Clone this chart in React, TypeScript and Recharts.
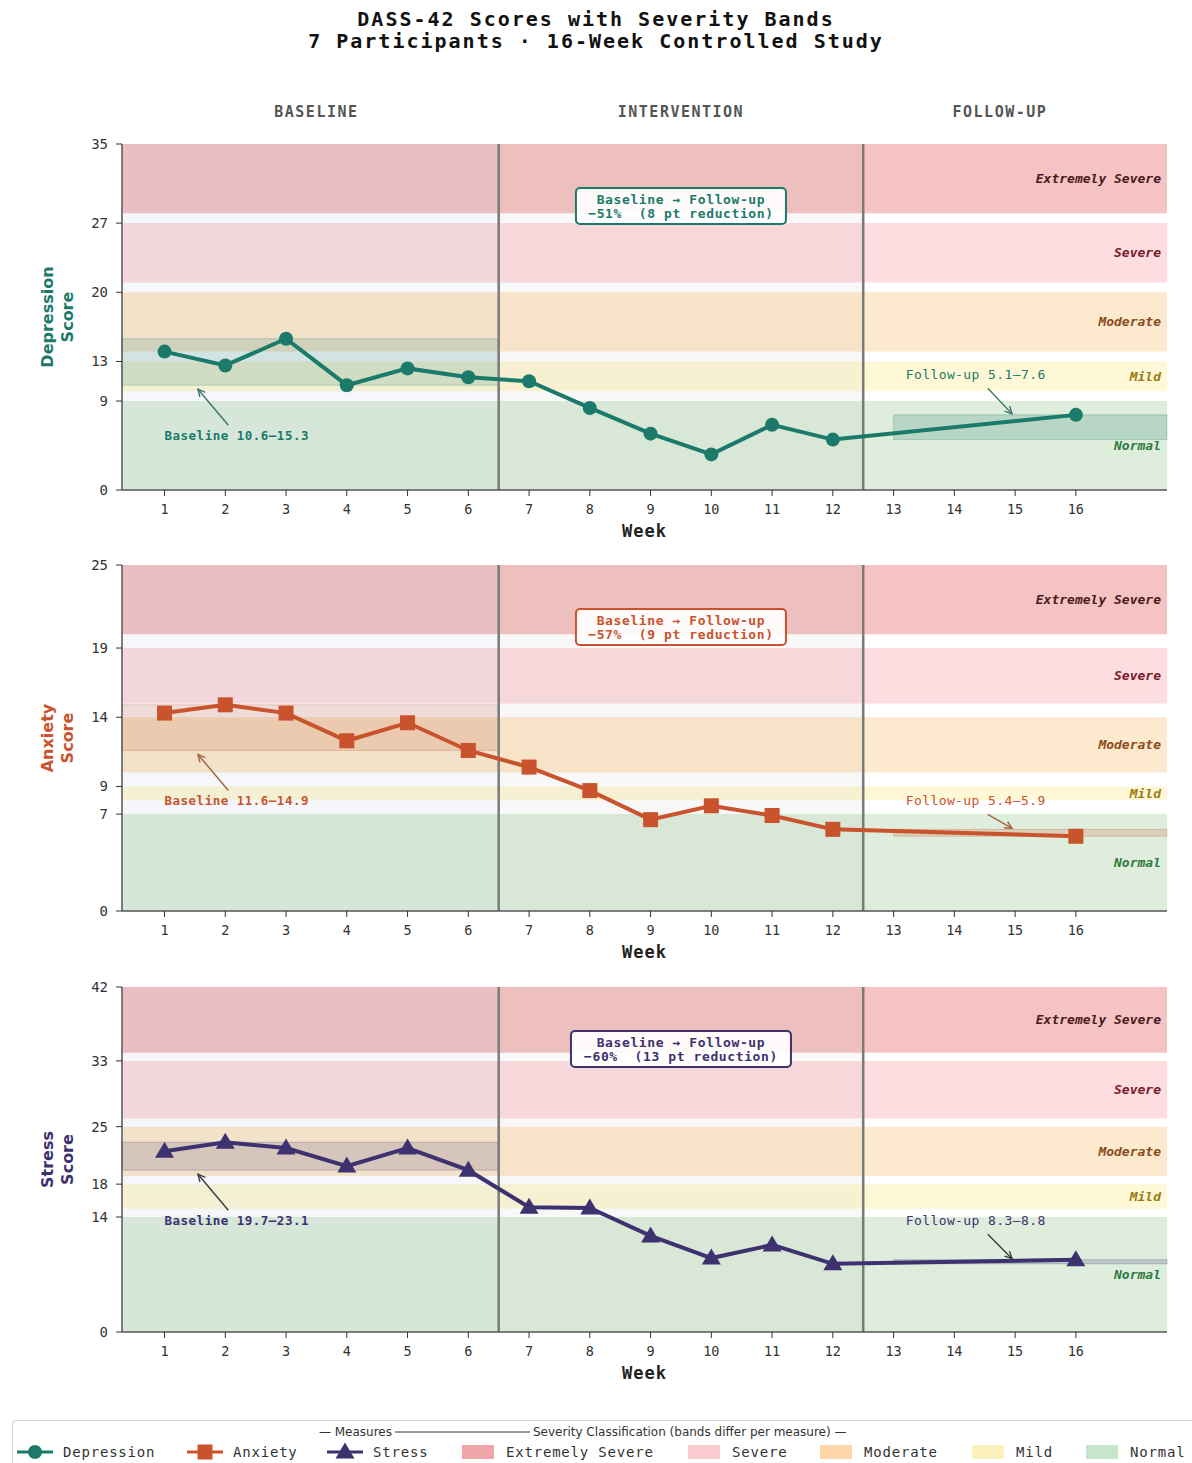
import { ComposedChart, XAxis, YAxis, Line, ReferenceArea, ReferenceLine } from 'recharts';

// ---- data ----
const weeks = [1, 2, 3, 4, 5, 6, 7, 8, 9, 10, 11, 12, 16];
const depression = [14.0, 12.6, 15.3, 10.6, 12.3, 11.4, 11.0, 8.3, 5.7, 3.6, 6.6, 5.1, 7.6];
const anxiety = [14.3, 14.9, 14.3, 12.3, 13.6, 11.6, 10.4, 8.7, 6.6, 7.6, 6.9, 5.9, 5.4];
const stress = [22.0, 23.1, 22.4, 20.2, 22.4, 19.7, 15.2, 15.1, 11.7, 9.0, 10.6, 8.3, 8.8];

const weekTicks = [1, 2, 3, 4, 5, 6, 7, 8, 9, 10, 11, 12, 13, 14, 15, 16];
const depressionTicks = [0, 9, 13, 20, 27, 35];
const anxietyTicks = [0, 7, 9, 14, 19, 25];
const stressTicks = [0, 14, 18, 25, 33, 42];

const severityNames = ['Normal', 'Mild', 'Moderate', 'Severe', 'Extremely Severe'];
const depressionBands = [[0, 9], [10, 13], [14, 20], [21, 27], [28, 35]];
const anxietyBands = [[0, 7], [8, 9], [10, 14], [15, 19], [20, 25]];
const stressBands = [[0, 14], [15, 18], [19, 25], [26, 33], [34, 42]];

const depressionBaseline = [10.6, 15.3];
const depressionFollowUp = [5.1, 7.6];
const anxietyBaseline = [11.6, 14.9];
const anxietyFollowUp = [5.4, 5.9];
const stressBaseline = [19.7, 23.1];
const stressFollowUp = [8.3, 8.8];

const depressionChange = '−51%  (8 pt reduction)';
const anxietyChange = '−57%  (9 pt reduction)';
const stressChange = '−60%  (13 pt reduction)';

const phaseNames = ['BASELINE', 'INTERVENTION', 'FOLLOW-UP'];
const phaseBreaks = [6.5, 12.5];

// ---- layout / styles ----
const MONO = '"DejaVu Sans Mono", monospace';
const SANS = '"DejaVu Sans", sans-serif';
const CHART_W = 1192;
const MARGIN = { top: 14, right: 25, bottom: 0, left: 62 };
const Y_AXIS_W = 60;
const X_AXIS_H = 55;
const xDomain: [number, number] = [0.3, 17.5];
const bandFill = ['#dfeedc', '#fef8d6', '#fde9cd', '#fddde0', '#f5c3c3'];
const bandLabelColor = ['#2e7a3e', '#9a7a10', '#8a4a1a', '#7a1a2a', '#4a1a1e'];
const legendSwatch = ['#f1a6aa', '#fccbd3', '#fdd7a8', '#fef2bc', '#c6e5ca'];
const phaseCenters = [3.5, 9.5, 14.75];

interface PanelDef {
  name: string;
  color: string;
  arrowColor: string;
  marker: 'circle' | 'square' | 'triangle';
  values: number[];
  ticks: number[];
  bands: number[][];
  baseline: number[];
  followUp: number[];
  change: string;
  followTextY: number;
  top: number;
  plotHeight: number;
  showPhases?: boolean;
}

const panels: PanelDef[] = [
  {
    name: 'Depression', color: '#1b7a6a', arrowColor: '#3c766c', marker: 'circle',
    values: depression, ticks: depressionTicks, bands: depressionBands,
    baseline: depressionBaseline, followUp: depressionFollowUp, change: depressionChange,
    followTextY: 11.7, top: 130, plotHeight: 346, showPhases: true,
  },
  {
    name: 'Anxiety', color: '#c9532c', arrowColor: '#a5623f', marker: 'square',
    values: anxiety, ticks: anxietyTicks, bands: anxietyBands,
    baseline: anxietyBaseline, followUp: anxietyFollowUp, change: anxietyChange,
    followTextY: 8.0, top: 551, plotHeight: 346,
  },
  {
    name: 'Stress', color: '#3d3170', arrowColor: '#3a3a48', marker: 'triangle',
    values: stress, ticks: stressTicks, bands: stressBands,
    baseline: stressBaseline, followUp: stressFollowUp, change: stressChange,
    followTextY: 13.6, top: 973, plotHeight: 345,
  },
];

function markerShape(kind: string, color: string) {
  return (props: any) => {
    const { cx, cy, index } = props;
    if (cx == null || cy == null) return <g key={index} />;
    if (kind === 'square') {
      return <rect key={index} x={cx - 7.5} y={cy - 7.5} width={15} height={15} fill={color} />;
    }
    if (kind === 'triangle') {
      return <polygon key={index} points={`${cx},${cy - 9.5} ${cx - 9.5},${cy + 6.5} ${cx + 9.5},${cy + 6.5}`} fill={color} />;
    }
    return <circle key={index} cx={cx} cy={cy} r={7} fill={color} />;
  };
}

function Arrow({ x1, y1, x2, y2, color }: any) {
  const ang = Math.atan2(y2 - y1, x2 - x1);
  const len = 8;
  const a1 = ang + Math.PI - 0.45;
  const a2 = ang + Math.PI + 0.45;
  return (
    <g stroke={color} strokeWidth={1.4} fill="none">
      <line x1={x1} y1={y1} x2={x2} y2={y2} />
      <polyline points={`${x2 + len * Math.cos(a1)},${y2 + len * Math.sin(a1)} ${x2},${y2} ${x2 + len * Math.cos(a2)},${y2 + len * Math.sin(a2)}`} />
    </g>
  );
}

// text layer drawn over the chart, same plot box as the chart under it
function Overlay({ p }: { p: PanelDef }) {
  const pad = 45;
  const plot = { x: MARGIN.left + Y_AXIS_W, y: MARGIN.top, width: CHART_W - MARGIN.left - Y_AXIS_W - MARGIN.right, height: p.plotHeight };
  const yMax = p.ticks[p.ticks.length - 1];
  const sx = (v: number) => plot.x + ((v - xDomain[0]) / (xDomain[1] - xDomain[0])) * plot.width;
  const sy = (v: number) => plot.y + ((yMax - v) / yMax) * plot.height;
  const cx = plot.x + plot.width / 2;
  const boxX = sx(9.5);
  const boxY = plot.y + 62;
  const boxW = p.change.length > 22 ? 220 : 210;
  const baseLo = sy(p.baseline[0]);
  const followText = sy(p.followTextY);
  const totalH = MARGIN.top + p.plotHeight + X_AXIS_H;

  return (
    <svg width={CHART_W} height={totalH + pad} style={{ position: 'absolute', left: 0, top: -pad, pointerEvents: 'none' }}>
      <g transform={`translate(0 ${pad})`}>
        {p.bands.map((b, i) => (
          <text key={severityNames[i]} x={plot.x + plot.width - 6} y={sy((b[0] + b[1]) / 2)} textAnchor="end"
            dominantBaseline="central" fontFamily={MONO} fontSize={13} fontStyle="italic" fontWeight="bold"
            fill={bandLabelColor[i]}>{severityNames[i]}</text>
        ))}

        <Arrow x1={sx(2.05)} y1={baseLo + 40} x2={sx(1.55)} y2={baseLo + 4} color={p.arrowColor} />
        <text x={sx(1)} y={baseLo + 50} dominantBaseline="central" fontFamily={MONO} fontSize={12.5}
          fontWeight="bold" letterSpacing={0.5} fill={p.color}>
          {`Baseline ${p.baseline[0].toFixed(1)}–${p.baseline[1].toFixed(1)}`}
        </text>

        <Arrow x1={sx(14.55)} y1={followText + 14} x2={sx(14.95)} y2={sy(p.followUp[1]) - 1} color={p.arrowColor} />
        <text x={sx(13.2)} y={followText} dominantBaseline="central" fontFamily={MONO} fontSize={13}
          letterSpacing={0.4} fill={p.color}>
          {`Follow-up ${p.followUp[0].toFixed(1)}–${p.followUp[1].toFixed(1)}`}
        </text>

        <rect x={boxX - boxW / 2} y={boxY - 18} width={boxW} height={36} rx={4} fill="#ffffff" fillOpacity={0.92}
          stroke={p.color} strokeWidth={2} />
        <text x={boxX} y={boxY - 7} textAnchor="middle" dominantBaseline="central" fontFamily={MONO}
          fontSize={13} fontWeight="bold" letterSpacing={0.6} fill={p.color}>Baseline → Follow-up</text>
        <text x={boxX} y={boxY + 7} textAnchor="middle" dominantBaseline="central" fontFamily={MONO}
          fontSize={13} fontWeight="bold" letterSpacing={0.6} fill={p.color} style={{ whiteSpace: 'pre' }}>{p.change}</text>

        <text transform={`rotate(-90 ${plot.x - 65} ${plot.y + plot.height / 2})`} x={plot.x - 65}
          y={plot.y + plot.height / 2} textAnchor="middle" fontFamily={SANS} fontSize={16} fontWeight="bold"
          fill={p.color}>
          <tspan x={plot.x - 65} dy={-4}>{p.name}</tspan>
          <tspan x={plot.x - 65} dy={20}>Score</tspan>
        </text>
        <text x={cx} y={plot.y + plot.height + 41} textAnchor="middle" dominantBaseline="central"
          fontFamily={MONO} fontSize={17} fontWeight="bold" letterSpacing={1} fill="#222">Week</text>

        {p.showPhases && phaseNames.map((n, i) => (
          <text key={n} x={sx(phaseCenters[i])} y={plot.y - 32} textAnchor="middle" dominantBaseline="central"
            fontFamily={MONO} fontSize={15} fontWeight="bold" letterSpacing={1.5} fill="#555">{n}</text>
        ))}
      </g>
    </svg>
  );
}

function Panel({ p }: { p: PanelDef }) {
  const data = weeks.map((w, i) => ({ week: w, value: p.values[i] }));
  const yMax = p.ticks[p.ticks.length - 1];
  const height = MARGIN.top + p.plotHeight + X_AXIS_H;
  return (
    <div style={{ position: 'absolute', left: 0, top: p.top, width: CHART_W, height }}>
      <ComposedChart width={CHART_W} height={height} data={data} margin={MARGIN}>
        <XAxis dataKey="week" type="number" domain={xDomain} ticks={weekTicks} interval={0} allowDataOverflow
          height={X_AXIS_H} tickSize={6} tickMargin={8}
          tick={{ fill: '#333', fontSize: 13.5, fontFamily: MONO }}
          axisLine={{ stroke: '#555', strokeWidth: 1.5 }} tickLine={{ stroke: '#333' }} />
        <YAxis type="number" domain={[0, yMax]} ticks={p.ticks} interval={0} allowDataOverflow width={Y_AXIS_W}
          tickSize={6} tickMargin={8}
          tick={{ fill: '#333', fontSize: 14, fontFamily: MONO }}
          axisLine={{ stroke: '#555', strokeWidth: 1.5 }} tickLine={{ stroke: '#333' }} />

        {p.bands.map((b, i) => (
          <ReferenceArea key={severityNames[i]} x1={xDomain[0]} x2={xDomain[1]} y1={b[0]} y2={b[1]}
            fill={bandFill[i]} fillOpacity={1} stroke="none" />
        ))}
        <ReferenceArea x1={xDomain[0]} x2={phaseBreaks[0]} y1={0} y2={yMax} fill="#4f78a3" fillOpacity={0.06} stroke="none" />
        <ReferenceArea x1={phaseBreaks[0]} x2={phaseBreaks[1]} y1={0} y2={yMax} fill="#6f7f70" fillOpacity={0.05} stroke="none" />

        <ReferenceArea x1={xDomain[0]} x2={phaseBreaks[0]} y1={p.baseline[0]} y2={p.baseline[1]}
          fill={p.color} fillOpacity={0.16} stroke={p.color} strokeOpacity={0.25} />
        <ReferenceArea x1={13} x2={xDomain[1]} y1={p.followUp[0]} y2={p.followUp[1]}
          fill={p.color} fillOpacity={0.2} stroke={p.color} strokeOpacity={0.25} />

        {phaseBreaks.map((x) => (
          <ReferenceLine key={x} x={x} stroke="#7a7a7a" strokeWidth={2.5} />
        ))}

        <Line type="linear" dataKey="value" stroke={p.color} strokeWidth={4} dot={markerShape(p.marker, p.color)}
          activeDot={false} isAnimationActive={false} />
      </ComposedChart>
      <Overlay p={p} />
    </div>
  );
}

const seriesLegend = [
  { name: 'Depression', color: '#1b7a6a', marker: 'circle', x: 17 },
  { name: 'Anxiety', color: '#c9532c', marker: 'square', x: 187 },
  { name: 'Stress', color: '#3d3170', marker: 'triangle', x: 327 },
];
const bandLegendX = [1086, 972, 820, 688, 462];

function Legend() {
  return (
    <div style={{ position: 'absolute', left: 12, top: 1420, width: 1200, height: 60, border: '1px solid #d4d4d4', borderRadius: 4, background: '#fff' }}>
      <svg width={1200} height={60} style={{ position: 'absolute', left: -13, top: -1 }}>
        <text x={392} y={12} textAnchor="end" dominantBaseline="central" fontFamily={SANS} fontSize={12} fill="#333">— Measures</text>
        <line x1={395} y1={12} x2={530} y2={12} stroke="#333" strokeWidth={1} />
        <text x={533} y={12} dominantBaseline="central" fontFamily={SANS} fontSize={12} fill="#333">Severity Classification (bands differ per measure) —</text>
        {seriesLegend.map((s) => (
          <g key={s.name}>
            <line x1={s.x} y1={32} x2={s.x + 36} y2={32} stroke={s.color} strokeWidth={3} />
            {markerShape(s.marker, s.color)({ cx: s.x + 18, cy: 32, index: s.name })}
            <text x={s.x + 46} y={32} dominantBaseline="central" fontFamily={MONO} fontSize={14} letterSpacing={0.8} fill="#333">{s.name}</text>
          </g>
        ))}
        {severityNames.map((n, i) => (
          <g key={n}>
            <rect x={bandLegendX[i]} y={25} width={32} height={14} fill={legendSwatch[4 - i]} />
            <text x={bandLegendX[i] + 44} y={32} dominantBaseline="central" fontFamily={MONO} fontSize={14} letterSpacing={0.8} fill="#333">{n}</text>
          </g>
        ))}
      </svg>
    </div>
  );
}

export default function App() {
  return (
    <div style={{ position: 'relative', width: 1192, height: 1463, background: '#fff', overflow: 'hidden' }}>
      <style>{'body{margin:0}'}</style>
      <div style={{ position: 'absolute', left: 0, top: 8, width: 1192, textAlign: 'center', fontFamily: MONO, fontWeight: 'bold', fontSize: 20, lineHeight: '22px', letterSpacing: 2, color: '#111' }}>
        <div>DASS-42 Scores with Severity Bands</div>
        <div>7 Participants · 16-Week Controlled Study</div>
      </div>
      {panels.map((p) => <Panel key={p.name} p={p} />)}
      <Legend />
    </div>
  );
}
